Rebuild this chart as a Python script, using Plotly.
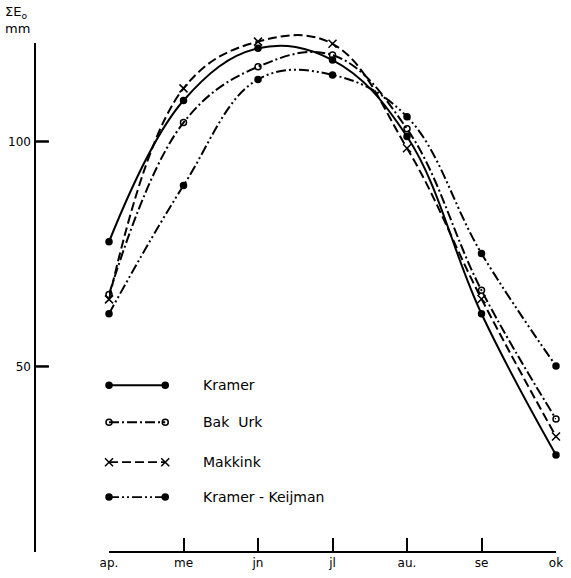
import plotly.graph_objects as go

months = ["ap.", "me", "jn", "jl", "au.", "se", "ok"]
xpos = [0, 1, 2, 3, 4, 5, 6]

kramer = [77.7, 109.1, 120.7, 118.1, 101.1, 61.7, 30.3]
bak_urk = [66.0, 104.2, 116.6, 119.2, 102.8, 66.9, 38.3]
makkink = [64.9, 111.8, 122.2, 121.7, 98.5, 65.0, 34.4]
kramer_keijman = [61.7, 90.2, 113.8, 114.8, 105.5, 75.1, 50.1]

series_names = ["Kramer", "Bak  Urk", "Makkink", "Kramer - Keijman"]
series_values = [kramer, bak_urk, makkink, kramer_keijman]

yticks = [50, 100]

FONT = "DejaVu Sans"
styles = [
    dict(dash="solid", symbol="circle", msize=6),
    dict(dash="10px,3px,2px,3px", symbol="circle-open", msize=6),
    dict(dash="9px,4px", symbol="x-thin-open", msize=8),
    dict(dash="10px,3px,2px,3px,2px,3px", symbol="circle", msize=6),
]

# geometry (pixels)
L, R, T, B = 35, 8, 20, 25
W, H = 571 - L - R, 578 - T - B
X0_PX = 110
px_per_unit = 4.507
y_lo = 8.74
y_hi_axis = 121.9
y_hi_data = y_lo + H / px_per_unit
TICK_LEN = 14 / W


def ypaper(v):
    return (v - y_lo) / (y_hi_data - y_lo)


fig = go.Figure()
for name, vals, st in zip(series_names, series_values, styles):
    fig.add_trace(go.Scatter(
        x=xpos, y=vals, mode="lines+markers", name=name,
        line=dict(color="black", width=2, dash=st["dash"], shape="spline", smoothing=1.1),
        marker=dict(symbol=st["symbol"], size=st["msize"], color="black",
                    line=dict(color="black", width=1.5)),
        cliponaxis=False, showlegend=False,
        xaxis="x", yaxis="y",
    ))

# custom legend (on a hidden overlay axis pair in pixel-like units)
leg_y = [386, 423, 463, 498]
for name, st, ly in zip(series_names, styles, leg_y):
    fig.add_trace(go.Scatter(
        x=[110, 167], y=[ly, ly], mode="lines+markers",
        line=dict(color="black", width=2 if st["dash"] == "solid" else 1.8, dash=st["dash"]),
        marker=dict(symbol=st["symbol"], size=st["msize"], color="black",
                    line=dict(color="black", width=1.5)),
        showlegend=False, xaxis="x2", yaxis="y2", cliponaxis=False, hoverinfo="skip",
    ))
    fig.add_annotation(x=203, y=ly, xref="x2", yref="y2", text=name, showarrow=False,
                       xanchor="left", yanchor="middle",
                       font=dict(family=FONT, size=14, color="black"))

fig.add_annotation(x=(3 - L) / W, y=(578 - B - 2) / H, xref="paper", yref="paper",
                   text="ΣE<sub>o</sub><br>mm", showarrow=False, xanchor="left", yanchor="top",
                   align="left", font=dict(family=FONT, size=13, color="black"))

# y axis line (shorter than the plotting area) plus right-pointing tick marks, as one path
path = f"M 0,{ypaper(y_lo):.5f} L 0,{ypaper(y_hi_axis):.5f}"
for tv in yticks:
    path += f" M 0,{ypaper(tv):.5f} L {TICK_LEN:.5f},{ypaper(tv):.5f}"
fig.add_shape(type="path", xref="paper", yref="paper", path=path,
              line=dict(color="black", width=2), layer="above")
# also rectangles for the ticks (thin filled boxes) as a fallback
for tv in yticks:
    fig.add_shape(type="rect", xref="paper", yref="paper",
                  x0=0, x1=TICK_LEN, y0=ypaper(tv) - 1 / H, y1=ypaper(tv) + 1 / H,
                  fillcolor="black", line=dict(width=0), layer="above")

fig.update_layout(
    width=571, height=578,
    margin=dict(l=L, r=R, t=T, b=B),
    paper_bgcolor="white", plot_bgcolor="white",
    font=dict(family=FONT, size=12, color="black"),
    xaxis=dict(domain=[(X0_PX - L) / W, 1.0], range=[0, 6], anchor="free", position=0,
               tickvals=xpos, ticktext=months, ticks="inside", ticklen=13, tickwidth=2,
               tickcolor="black", showline=True, linecolor="black", linewidth=2,
               showgrid=False, zeroline=False, tickfont=dict(size=12)),
    yaxis=dict(range=[y_lo, y_hi_data], anchor="free", position=0,
               tickvals=yticks, ticks="", showline=False, showgrid=False,
               zeroline=False, tickfont=dict(size=12), ticklabelstandoff=4),
    xaxis2=dict(range=[X0_PX, 571 - R], overlaying="x", visible=False, anchor="y2"),
    yaxis2=dict(range=[578 - B, T], overlaying="y", visible=False, anchor="x2"),
)

fig.write_html("out.html")
